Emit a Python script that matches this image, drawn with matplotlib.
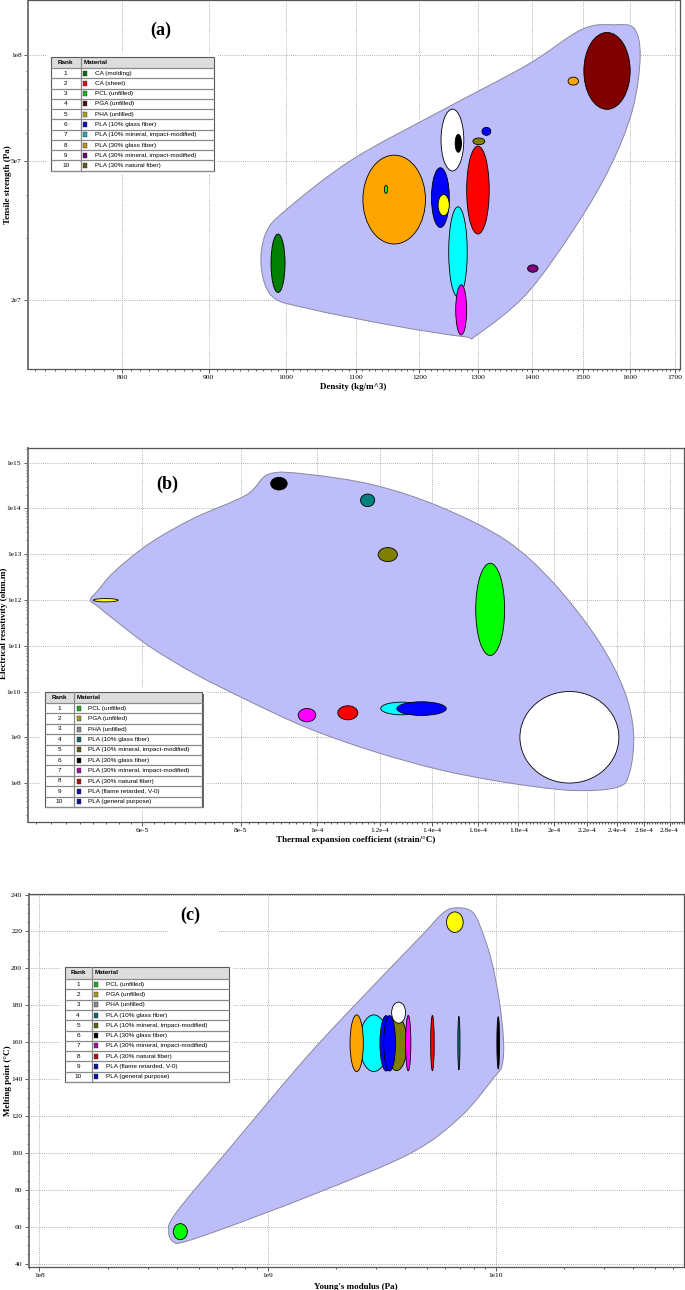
import numpy as np
import matplotlib.pyplot as plt
from matplotlib.patches import Ellipse, Rectangle, PathPatch
from matplotlib.path import Path
from matplotlib.ticker import NullFormatter

W, H = 685, 1290

# ---- (a) density vs tensile strength: one ellipse per material range ----
a_x_lo = [980, 1111, 1144, 1220, 1231, 1236, 1260, 1249, 1261, 1280, 1291, 1307, 1391, 1470, 1502]
a_x_hi = [999, 1210, 1149, 1250, 1250, 1275, 1271, 1281, 1280, 1320, 1312, 1323, 1411, 1491, 1600]
a_y_lo = [2.10e7, 2.89e7, 4.03e7, 3.22e7, 3.48e7, 4.67e7, 5.28e7, 2.04e7, 1.59e7, 3.085e7,
          5.55e7, 5.90e7, 2.40e7, 8.21e7, 7.0e7]
a_y_hi = [3.085e7, 5.18e7, 4.25e7, 4.77e7, 4.0e7, 7.01e7, 5.94e7, 3.69e7, 2.21e7, 5.5e7,
          5.8e7, 6.22e7, 2.52e7, 8.65e7, 1.16e8]
a_colors = ['#008000', '#ffa500', '#00ff00', '#0000ff', '#ffff00', 'white', 'black', '#00ffff',
            '#ff00ff', '#ff0000', '#808000', '#0000ff', '#800080', '#ffa500', '#800000']
a_env_x = [1498, 1567, 1609, 1622, 1605, 1557, 1485, 1390, 1298, 1275, 1161, 1030, 982, 967,
           973, 1000, 1094, 1233, 1390]
a_env_y = [1.184e8, 1.22e8, 1.19e8, 9.89e7, 6.97e7, 4.80e7, 3.24e7, 2.09e7, 1.59e7, 1.572e7,
           1.686e7, 1.893e7, 2.044e7, 2.49e7, 3.10e7, 3.61e7, 5.02e7, 6.89e7, 9.37e7]
a_xticks = [800, 900, 1000, 1100, 1200, 1300, 1400, 1500, 1600, 1700]
a_yticks = [2e7, 5e7, 1e8]
a_ylabels = ['2e7', '5e7', '1e8']
a_names = ['CA (molding)', 'CA (sheet)', 'PCL (unfilled)', 'PGA (unfilled)', 'PHA (unfilled)',
           'PLA (10% glass fiber)', 'PLA (10% mineral, impact-modified)', 'PLA (30% glass fiber)',
           'PLA (30% mineral, impact-modified)', 'PLA (30% natural fiber)']
a_icon = ['#0b6b0b', '#d01818', '#22b022', '#5a0a0a', '#a8a020', '#1010b8', '#28a8b0',
          '#b89020', '#6a0a6a', '#5e5e10']

# ---- (b) thermal expansion vs electrical resistivity ----
b_x_lo = [5.2e-5, 8.73e-5, 1.135e-4, 1.195e-4, 1.589e-4, 1.808e-4, 9.46e-5, 1.062e-4, 1.204e-4, 1.262e-4]
b_x_hi = [5.59e-5, 9.16e-5, 1.183e-4, 1.264e-4, 1.729e-4, 2.414e-4, 9.96e-5, 1.126e-4, 1.358e-4, 1.458e-4]
b_y_lo = [9.09e11, 2.53e14, 1.095e14, 6.9e12, 6.12e10, 1e8, 2.18e9, 2.41e9, 3.1e9, 3.0e9]
b_y_hi = [1.074e12, 4.78e14, 2.07e14, 1.395e13, 6.34e12, 1e10, 4.27e9, 4.88e9, 5.86e9, 5.96e9]
b_colors = ['#ffff00', 'black', '#008080', '#808000', '#00ff00', 'white', '#ff00ff', '#ff0000',
            '#00ffff', '#0000ff']
b_env_x = [5.155e-5, 5.27e-5, 5.53e-5, 6.13e-5, 6.97e-5, 8.13e-5, 8.69e-5, 9.73e-5, 1.18e-4,
           1.43e-4, 1.733e-4, 1.996e-4, 2.27e-4, 2.45e-4, 2.52e-4, 2.49e-4, 2.40e-4, 2.10e-4,
           1.733e-4, 1.43e-4, 1.18e-4, 9.73e-5, 8.13e-5, 6.97e-5, 6.13e-5, 5.53e-5, 5.27e-5]
b_env_y = [1.0e12, 1.607e12, 4.18e12, 1.73e13, 6.09e13, 1.97e14, 5.66e14, 5.56e14, 3.25e14,
           1.095e14, 2.05e13, 2.32e12, 1.35e11, 1.09e10, 1.234e9, 1.654e8, 8.04e7, 6.92e7,
           1.034e8, 1.955e8, 4.91e8, 1.587e9, 6.59e9, 2.52e10, 9.6e10, 3.68e11, 7.19e11]
b_xticks = [6e-5, 8e-5, 1e-4, 1.2e-4, 1.4e-4, 1.6e-4, 1.8e-4, 2e-4, 2.2e-4, 2.4e-4, 2.6e-4, 2.8e-4]
b_xlabels = ['6e-5', '8e-5', '1e-4', '1.2e-4', '1.4e-4', '1.6e-4', '1.8e-4', '2e-4', '2.2e-4',
             '2.4e-4', '2.6e-4', '2.8e-4']
b_yticks = [1e8, 1e9, 1e10, 1e11, 1e12, 1e13, 1e14, 1e15]
b_ylabels = ['1e8', '1e9', '1e10', '1e11', '1e12', '1e13', '1e14', '1e15']

# ---- (c) Young's modulus vs melting point ----
c_x_lo = [2.53e9, 2.30e9, 3.31e9, 3.11e9, 3.23e9, 3.50e9, 4.03e9, 5.19e9, 6.83e9, 1.013e10, 6.09e9, 3.86e8]
c_x_hi = [3.38e9, 2.63e9, 4.09e9, 3.53e9, 3.64e9, 4.03e9, 4.25e9, 5.38e9, 6.98e9, 1.041e10, 7.21e9, 4.45e8]
c_y_lo = [144.1, 144.1, 144.6, 144.4, 144.4, 170.3, 144.5, 144.5, 145.0, 145.5, 219.5, 53.0]
c_y_hi = [174.8, 174.8, 173.9, 174.4, 174.4, 181.7, 174.5, 174.5, 174.0, 173.8, 230.6, 61.7]
c_colors = ['#00ffff', '#ffa500', '#808000', '#0000ff', '#0000ff', 'white', '#ff00ff', '#ff0000',
            '#008080', 'black', '#ffff00', '#00ff00']
c_env_x = [5.88e9, 6.71e9, 7.84e9, 8.56e9, 9.57e9, 1.036e10, 1.083e10, 1.069e10, 9.91e9, 7.02e9,
           4.22e9, 1.627e9, 6.71e8, 4.31e8, 3.86e8, 3.69e8, 3.95e8, 6.71e8, 1.49e9, 2.89e9, 4.71e9]
c_env_y = [230.0, 232.8, 231.0, 222.8, 204.7, 183.0, 161.3, 147.7, 141.4, 119.6, 99.7, 78.0,
           59.9, 51.8, 51.8, 57.2, 67.2, 101.5, 152.2, 190.2, 217.4]
c_xticks = [1e8, 1e9, 1e10]
c_xlabels = ['1e8', '1e9', '1e10']
c_yticks = [40, 60, 80, 100, 120, 140, 160, 180, 200, 220, 240]

bc_names = ['PCL (unfilled)', 'PGA (unfilled)', 'PHA (unfilled)', 'PLA (10% glass fiber)',
            'PLA (10% mineral, impact-modified)', 'PLA (30% glass fiber)',
            'PLA (30% mineral, impact-modified)', 'PLA (30% natural fiber)',
            'PLA (flame retarded, V-0)', 'PLA (general purpose)']
bc_icon = ['#22a822', '#a89a18', '#8a8a8a', '#106868', '#5e5e10', '#000000', '#a010a0',
           '#b01010', '#1010a0', '#1010a0']

plt.rcParams['font.family'] = ['Liberation Serif', 'DejaVu Serif']
fig = plt.figure(figsize=(W / 100, H / 100), dpi=100)


def add_axes_px(l, t, r, b):
    return fig.add_axes([l / W, 1 - b / H, (r - l) / W, (b - t) / H])


def scaled(v, log):
    v = np.asarray(v, dtype=float)
    return np.log10(v) if log else v


def style(ax):
    ax.set_axisbelow(True)
    ax.grid(True, which='major', color='#9a9a9a', linestyle=(0, (1, 1.5)), linewidth=0.6)
    ax.tick_params(which='both', direction='out', labelsize=5.4, color='#404040', width=0.6, pad=1.5)
    ax.tick_params(which='major', length=3)
    ax.tick_params(which='minor', length=1.6)
    for s in ax.spines.values():
        s.set_color('#555555')
        s.set_linewidth(0.9)
    ax.spines['left'].set_linewidth(1.4)
    ax.spines['left'].set_color('#777777')
    ax.xaxis.set_minor_formatter(NullFormatter())
    ax.yaxis.set_minor_formatter(NullFormatter())


def envelope(ax, xs, ys, xlog, ylog):
    # closed smooth outline (Catmull-Rom as cubic Bezier) drawn in scaled axis space
    P = np.column_stack([scaled(xs, xlog), scaled(ys, ylog)])
    n = len(P)
    verts, codes = [P[0]], [Path.MOVETO]
    for i in range(n):
        p0, p1, p2, p3 = P[i - 1], P[i], P[(i + 1) % n], P[(i + 2) % n]
        verts += [p1 + (p2 - p0) / 6, p2 - (p3 - p1) / 6, p2]
        codes += [Path.CURVE4] * 3
    verts.append(P[0])
    codes.append(Path.CLOSEPOLY)
    ax.add_patch(PathPatch(Path(verts, codes), transform=ax.transLimits + ax.transAxes,
                           fc='#bdbdf9', ec='#8888a0', lw=0.7, zorder=1))


def ellipses(ax, xlo, xhi, ylo, yhi, colors, xlog, ylog):
    trans = ax.transLimits + ax.transAxes
    X0, X1 = scaled(xlo, xlog), scaled(xhi, xlog)
    Y0, Y1 = scaled(ylo, ylog), scaled(yhi, ylog)
    for x0, x1, y0, y1, c in zip(X0, X1, Y0, Y1, colors):
        ax.add_patch(Ellipse(((x0 + x1) / 2, (y0 + y1) / 2), x1 - x0, y1 - y0, transform=trans,
                             fc=c, ec='black', lw=0.6, zorder=2))


def table(l, t, w, rank_w, head_h, row_h, names, icons):
    n = len(names)
    h = head_h + n * row_h
    m = 4
    tax = fig.add_axes([(l - m) / W, 1 - (t + h + m) / H, (w + 2 * m) / W, (h + 2 * m) / H])
    tax.set_xlim(-m, w + m)
    tax.set_ylim(h + m, -m)
    tax.axis('off')
    tax.add_patch(Rectangle((-m, -m), w + 2 * m, h + 2 * m, fc='white', ec='none'))
    tax.add_patch(Rectangle((1.3, 1.3), w, h, fc='#6a6a6a', ec='none'))
    tax.add_patch(Rectangle((0, 0), w, h, fc='white', ec='none'))
    tax.add_patch(Rectangle((0, 0), w, head_h, fc='#dddddd', ec='none'))
    for i in range(n + 1):
        y = head_h + i * row_h
        tax.plot([0, w], [y, y], color='#8a8a8a', lw=0.9)
    tax.plot([rank_w, rank_w], [0, h], color='#8a8a8a', lw=0.9)
    tax.add_patch(Rectangle((0, 0), w, h, fill=False, ec='#5a5a5a', lw=0.8))
    kw = dict(fontsize=4.6, family=['Liberation Sans', 'DejaVu Sans'], va='center')
    tax.text(rank_w / 2, head_h / 2, 'Rank', ha='center', fontweight='bold', **kw)
    tax.text(rank_w + 2.5, head_h / 2, 'Material', ha='left', fontweight='bold', **kw)
    for i, (name, c) in enumerate(zip(names, icons)):
        yc = head_h + (i + 0.5) * row_h
        tax.text(rank_w / 2, yc, str(i + 1), ha='center', **kw)
        tax.add_patch(Rectangle((rank_w + 2.3, yc - 2.5), 4.4, 5, fc=c, ec='#333333', lw=0.3))
        tax.text(rank_w + 14, yc, name, ha='left', **kw)


def labels(ax, xl, yl, xpos, ypos):
    ax.set_xlabel(xl, fontsize=6.5, fontweight='bold')
    ax.set_ylabel(yl, fontsize=6.5, fontweight='bold')
    ax.xaxis.set_label_coords(*xpos)
    ax.yaxis.set_label_coords(*ypos)
    ax.xaxis.label.set_va('center')
    ax.yaxis.label.set_va('center')


# ---------------- panel (a) ----------------
ax = add_axes_px(28, 0, 680, 369)
ax.set_xscale('log')
ax.set_yscale('log')
ax.set_xlim(703.4, 1712.6)
ax.set_ylim(1.271e7, 1.436e8)
style(ax)
ax.set_xticks(a_xticks, [str(v) for v in a_xticks])
ax.set_xticks(np.arange(710, 1711, 10), minor=True)
ax.set_yticks(a_yticks, a_ylabels)
envelope(ax, a_env_x, a_env_y, True, True)
ellipses(ax, a_x_lo, a_x_hi, a_y_lo, a_y_hi, a_colors, True, True)
ax.text(0.204, 0.919, '(a)', transform=ax.transAxes, fontsize=13, fontweight='bold',
        ha='center', va='center')
labels(ax, 'Density (kg/m^3)', 'Tensile strength (Pa)', (0.498, -0.049), (-0.031, 0.5))
table(50.7, 57, 163.3, 30, 11, 10.27, a_names, a_icon)

# ---------------- panel (b) ----------------
ax = add_axes_px(27.5, 448, 684, 822)
ax.set_xscale('log')
ax.set_yscale('log')
ax.set_xlim(4.29e-5, 2.92e-4)
ax.set_ylim(1.41e7, 2.09e15)
style(ax)
ax.set_xticks(b_xticks, b_xlabels)
ax.set_xticks(np.arange(44e-6, 292e-6, 2e-6), minor=True)
ax.set_yticks(b_yticks, b_ylabels)
envelope(ax, b_env_x, b_env_y, True, True)
ellipses(ax, b_x_lo, b_x_hi, b_y_lo, b_y_hi, b_colors, True, True)
ax.text(0.213, 0.904, '(b)', transform=ax.transAxes, fontsize=13, fontweight='bold',
        ha='center', va='center')
labels(ax, 'Thermal expansion coefficient (strain/°C)', 'Electrical resistivity (ohm.m)',
       (0.5, -0.048), (-0.0365, 0.53))
table(44.7, 692.3, 157.6, 29.6, 10.7, 10.4, bc_names, bc_icon)

# ---------------- panel (c) ----------------
ax = add_axes_px(28.5, 894, 684, 1267)
ax.set_xscale('log')
ax.set_xlim(8.95e7, 6.7e10)
ax.set_ylim(38.2, 240.3)
style(ax)
ax.set_xticks(c_xticks, c_xlabels)
ax.set_yticks(c_yticks)
ax.set_yticks(np.arange(40, 241, 5), minor=True)
envelope(ax, c_env_x, c_env_y, True, False)
ellipses(ax, c_x_lo, c_x_hi, c_y_lo, c_y_hi, c_colors, True, False)
ax.add_patch(Rectangle((0.2143, 0.887), 0.0763, 0.097, transform=ax.transAxes,
                       fc='white', ec='none', zorder=0.8))
ax.text(0.247, 0.942, '(c)', transform=ax.transAxes, fontsize=13, fontweight='bold',
        ha='center', va='center')
labels(ax, "Young's modulus (Pa)", 'Melting point (°C)', (0.5, -0.054), (-0.031, 0.5))
table(64.5, 967, 164.5, 27.2, 12, 10.3, bc_names, bc_icon)

fig.savefig('out.png', dpi=100)
